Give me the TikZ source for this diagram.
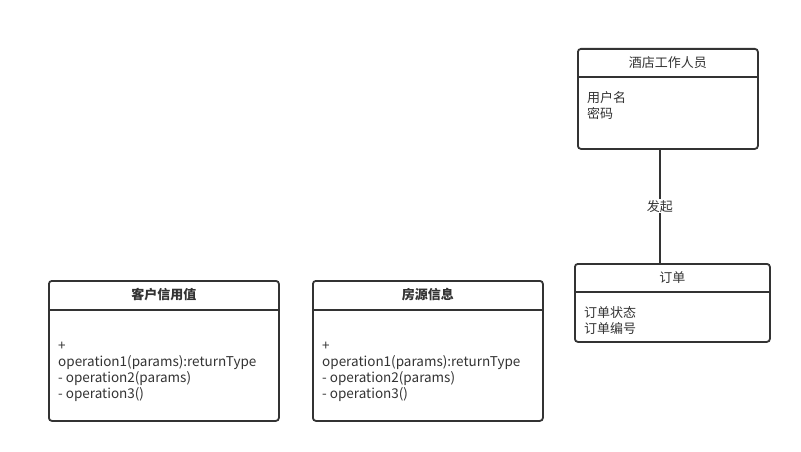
\documentclass[tikz,border=0pt]{standalone}
\usepackage{fontspec}
\setmainfont{Noto Sans CJK SC}
\usetikzlibrary{positioning}
\definecolor{umlline}{HTML}{333333}
\tikzstyle{classbox} = [rectangle, rounded corners=3pt, draw=umlline, line width=1.8pt, inner sep=0pt, anchor=north west]
\tikzstyle{divider} = [draw=umlline, line width=1.8pt]
\tikzstyle{title} = [text=umlline, font=\fontsize{13}{16}\selectfont, inner sep=0pt]
\tikzstyle{members} = [text=umlline, font=\fontsize{13}{16}\selectfont, align=left, anchor=north west, inner sep=0pt]
\tikzstyle{operations} = [members, font=\fontsize{13.5}{16}\selectfont]
\tikzstyle{assoc} = [draw=umlline, line width=1.8pt]

\begin{document}
\begin{tikzpicture}[x=1pt, y=-1pt]
    \useasboundingbox [fill=white] (0,0) rectangle (801,452);

    % hotel staff
    \node (staff) [classbox, minimum width=180pt, minimum height=100pt] at (577,48) {};
    \draw [divider] ([yshift=-29pt]staff.north west) -- ([yshift=-29pt]staff.north east);
    \node [title] at ([yshift=-15pt]staff.north) {酒店工作人员};
    \node [members] at ([xshift=10pt,yshift=-43pt]staff.north west) {用户名\\密码};

    % order
    \node (order) [classbox, minimum width=195pt, minimum height=78pt] at (574,263) {};
    \draw [divider] ([yshift=-29pt]order.north west) -- ([yshift=-29pt]order.north east);
    \node [title] at ([yshift=-15pt]order.north) {订单};
    \node [members] at ([xshift=10pt,yshift=-43pt]order.north west) {订单状态\\订单编号};

    % credit
    \node (credit) [classbox, minimum width=230pt, minimum height=140pt] at (48,280) {};
    \draw [divider] ([yshift=-30pt]credit.north west) -- ([yshift=-30pt]credit.north east);
    \node [title, font=\fontsize{13}{16}\selectfont\bfseries] at ([yshift=-15pt]credit.north) {客户信用值};
    \node [operations] at ([xshift=10pt,yshift=-62pt]credit.north west) {+\\operation1(params):returnType\\- operation2(params)\\- operation3()};

    % house
    \node (house) [classbox, minimum width=230pt, minimum height=140pt] at (312,280) {};
    \draw [divider] ([yshift=-30pt]house.north west) -- ([yshift=-30pt]house.north east);
    \node [title, font=\fontsize{13}{16}\selectfont\bfseries] at ([yshift=-15pt]house.north) {房源信息};
    \node [operations] at ([xshift=10pt,yshift=-62pt]house.north west) {+\\operation1(params):returnType\\- operation2(params)\\- operation3()};

    \draw [assoc] ([xshift=-8pt]staff.south) -- ([xshift=-8pt]staff.south |- order.north)
        node [midway, fill=white, text=umlline, font=\fontsize{13}{16}\selectfont, inner sep=1pt] {发起};
\end{tikzpicture}
\end{document}
